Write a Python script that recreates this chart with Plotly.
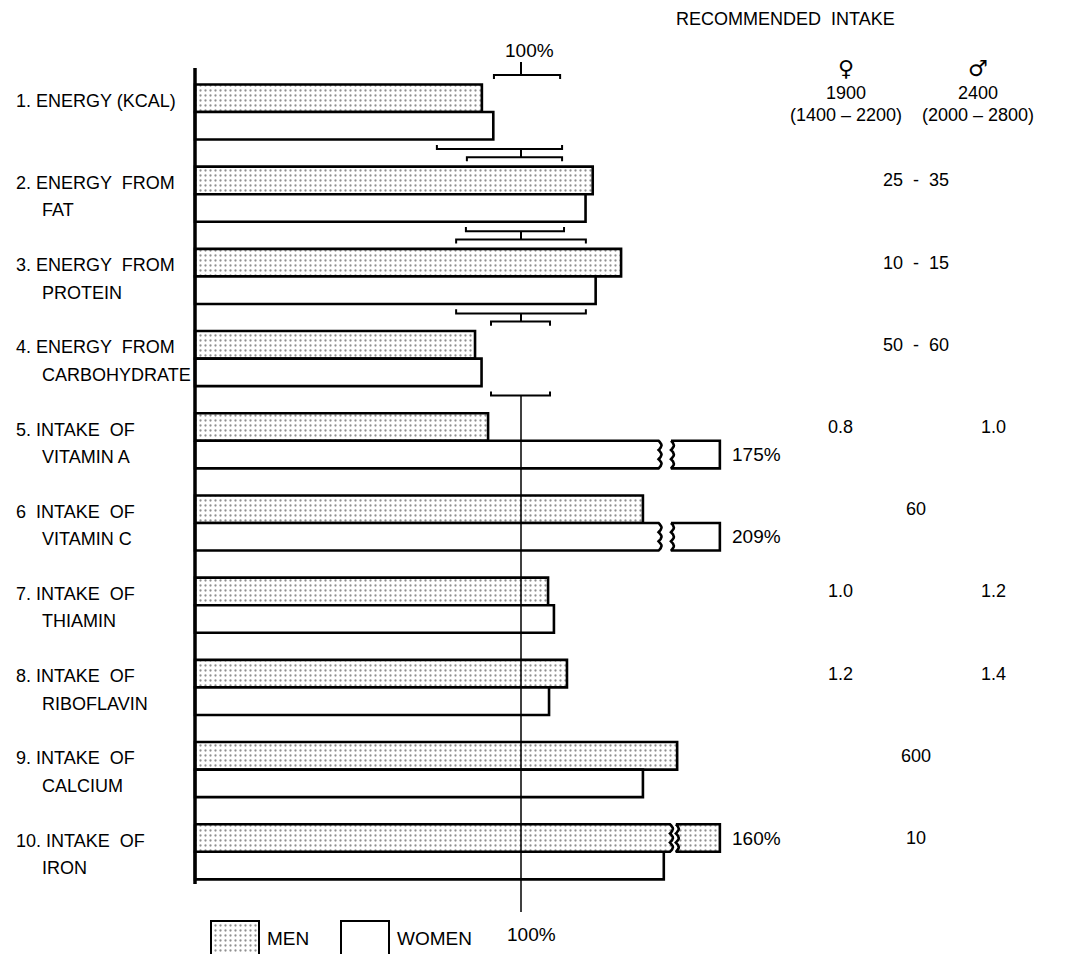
import numpy as np
import plotly.graph_objects as go

# ---------------- data ----------------
label_line1 = ["1. ENERGY (KCAL)", "2. ENERGY  FROM", "3. ENERGY  FROM", "4. ENERGY  FROM",
               "5. INTAKE  OF", "6  INTAKE  OF", "7. INTAKE  OF", "8. INTAKE  OF",
               "9. INTAKE  OF", "10. INTAKE  OF"]
label_line2 = ["", "FAT", "PROTEIN", "CARBOHYDRATE", "VITAMIN A", "VITAMIN C",
               "THIAMIN", "RIBOFLAVIN", "CALCIUM", "IRON"]

men_pct = [88.0, 122.0, 130.7, 85.9, 89.9, 137.4, 108.3, 114.1, 147.9, 160.0]
women_pct = [91.5, 119.8, 122.9, 87.9, 175.0, 209.0, 110.1, 108.6, 137.4, 143.8]

# recommended ranges (as % of recommended intake) shown as brackets, categories 1-4
range_top_lo = [91.7, 83.4, 80.1, 90.8]
range_top_hi = [112.0, 112.6, 119.9, 108.9]
range_bot_lo = [74.2, 83.1, 80.1, 90.8]
range_bot_hi = [112.6, 113.2, 119.9, 108.9]

# recommended intake table
rec_female = [None, None, None, None, "0.8", None, "1.0", "1.2", None, None]
rec_male = [None, None, None, None, "1.0", None, "1.2", "1.4", None, None]
rec_both = [None, "25  -  35", "10  -  15", "50  -  60", None, "60", None, None, "600", "10"]
energy_female = ["1900", "(1400 – 2200)"]
energy_male = ["2400", "(2000 – 2800)"]

# ---------------- layout helpers (reference pixel coordinates) ----------------
PAGE_OFS = 8                      # browser body margin
W, H = 1067 - PAGE_OFS, 954 - PAGE_OFS
X0_PX, PX_PER_PCT = 195.0, 3.26   # 0 % at 195 px, 100 % at 521 px
Y0_PX, PX_PER_ROW = 112.0, 82.2   # row centre spacing


def px2x(px):
    return (px - X0_PX) / PX_PER_PCT


def py2y(py):
    return (py - Y0_PX) / PX_PER_ROW


BAR_T = 0.335
OFF = 0.1675
FONT = dict(family="Liberation Sans, Arial, sans-serif", size=18, color="black")
FONT_L = dict(family="Liberation Sans, Arial, sans-serif", size=19, color="black")
DOTS = dict(shape=".", fgcolor="#222222", bgcolor="white", size=5, solidity=0.17)
EDGE_W = 2.6

BREAK = {"men": (145.7, 147.5), "women": (142.2, 146.0)}
STUB_END = 161.0
CAP = 150.0

fig = go.Figure()
n = len(men_pct)


def add_series(values, offset, pattern, key):
    xs, ys = [], []
    for i, v in enumerate(values):
        if v <= CAP:
            xs.append(v)
            ys.append(i + offset)
    marker = dict(color="white", line=dict(color="black", width=EDGE_W))
    if pattern:
        marker["pattern"] = pattern
    fig.add_trace(go.Bar(orientation="h", x=xs, y=ys, width=BAR_T, marker=marker,
                         hoverinfo="skip"))
    # broken bars
    brk, stub0 = BREAK[key]
    for i, v in enumerate(values):
        if v <= CAP:
            continue
        top = i + offset - BAR_T / 2
        bot = i + offset + BAR_T / 2
        t = np.linspace(0, 1, 25)
        wave = 0.9 * np.abs(np.sin(3 * np.pi * t))
        ty = top + (bot - top) * t
        mx = [0, brk] + list(brk + wave) + [brk, 0, 0]
        my = [top, top] + list(ty) + [bot, bot, top]
        sx = [stub0, STUB_END, STUB_END, stub0] + list(stub0 + wave[::-1]) + [stub0]
        sy = [top, top, bot, bot] + list(ty[::-1]) + [top]
        for px_, py_ in ((mx, my), (sx, sy)):
            kw = dict(x=px_, y=py_, mode="lines", fill="toself", fillcolor="white",
                      line=dict(color="black", width=EDGE_W), hoverinfo="skip")
            if pattern:
                kw["fillpattern"] = pattern
            fig.add_trace(go.Scatter(**kw))
        fig.add_annotation(x=STUB_END + 3.0, y=i + offset, text=f"{v:.0f}%",
                           xanchor="left", yanchor="middle", showarrow=False, font=FONT_L)


add_series(men_pct, -OFF, DOTS, "men")
add_series(women_pct, OFF, None, "women")

# legend swatches
for (x_l, x_r), pat, txt, tx in (((px2x(211), px2x(259)), DOTS, "MEN", px2x(265)),
                                  ((px2x(341), px2x(389)), None, "WOMEN", px2x(395))):
    yt, yb = py2y(921), py2y(975)
    kw = dict(x=[x_l, x_r, x_r, x_l, x_l], y=[yb, yb, yt, yt, yb], mode="lines",
              fill="toself", fillcolor="white", line=dict(color="black", width=2),
              hoverinfo="skip")
    if pat:
        kw["fillpattern"] = pat
    fig.add_trace(go.Scatter(**kw))
    fig.add_annotation(x=tx, y=py2y(938), text=txt, xanchor="left", yanchor="middle",
                       showarrow=False, font=FONT_L)

shapes = []
LINE = dict(color="black", width=2)
# left axis
shapes.append(dict(type="line", x0=0, x1=0, y0=py2y(68), y1=py2y(884),
                   line=dict(color="black", width=3.5)))
TICK = 0.05
for k in range(len(range_top_lo)):
    yt = k - 0.45
    yb = k + 0.45
    lo, hi = range_top_lo[k], range_top_hi[k]
    shapes.append(dict(type="path",
                       path=f"M {lo} {yt + TICK} L {lo} {yt} L {hi} {yt} L {hi} {yt + TICK}",
                       line=LINE))
    lo, hi = range_bot_lo[k], range_bot_hi[k]
    shapes.append(dict(type="path",
                       path=f"M {lo} {yb - TICK} L {lo} {yb} L {hi} {yb} L {hi} {yb - TICK}",
                       line=LINE))
    if k == 0:
        shapes.append(dict(type="line", x0=100, x1=100, y0=py2y(62), y1=yt, line=LINE))
    if k < len(range_top_lo) - 1:
        shapes.append(dict(type="line", x0=100, x1=100, y0=yb, y1=k + 1 - 0.45, line=LINE))
    else:
        shapes.append(dict(type="line", x0=100, x1=100, y0=yb, y1=py2y(912),
                           line=dict(color="black", width=1.5)))

fig.update_layout(shapes=[dict(s, layer="above") for s in shapes])

# left labels
for i in range(n):
    fig.add_annotation(x=px2x(14), y=i - OFF + 0.03, text=label_line1[i], xanchor="left",
                       yanchor="middle", showarrow=False, font=FONT)
    if label_line2[i]:
        fig.add_annotation(x=px2x(40), y=i + OFF + 0.03, text=label_line2[i],
                           xanchor="left", yanchor="middle", showarrow=False, font=FONT)

# 100% labels
fig.add_annotation(x=px2x(529), y=py2y(50), text="100%", showarrow=False, font=FONT_L)
fig.add_annotation(x=px2x(531), y=py2y(934), text="100%", showarrow=False, font=FONT_L)

# recommended intake header
fig.add_annotation(x=px2x(785), y=py2y(19), text="RECOMMENDED  INTAKE", showarrow=False,
                   font=FONT)
FCOL, MCOL = px2x(846), px2x(978)
fig.add_annotation(x=FCOL, y=py2y(68), text="♀", showarrow=False,
                   font=dict(family="DejaVu Sans", size=22, color="black"))
fig.add_annotation(x=MCOL, y=py2y(68), text="♂", showarrow=False,
                   font=dict(family="DejaVu Sans", size=22, color="black"))
for j, (tf, tm) in enumerate(zip(energy_female, energy_male)):
    fig.add_annotation(x=FCOL, y=py2y(93 + 22 * j), text=tf, showarrow=False, font=FONT)
    fig.add_annotation(x=MCOL, y=py2y(93 + 22 * j), text=tm, showarrow=False, font=FONT)

for i in range(n):
    y = i - OFF
    if rec_female[i]:
        fig.add_annotation(x=px2x(840), y=y, text=rec_female[i], showarrow=False, font=FONT)
    if rec_male[i]:
        fig.add_annotation(x=px2x(993), y=y, text=rec_male[i], showarrow=False, font=FONT)
    if rec_both[i]:
        fig.add_annotation(x=px2x(916), y=y, text=rec_both[i], showarrow=False, font=FONT)

fig.update_layout(
    width=W, height=H,
    margin=dict(l=0, r=0, t=0, b=0),
    paper_bgcolor="white", plot_bgcolor="white",
    barmode="overlay", showlegend=False,
    xaxis=dict(range=[px2x(PAGE_OFS), px2x(PAGE_OFS + W)], visible=False, fixedrange=True),
    yaxis=dict(range=[py2y(PAGE_OFS + H), py2y(PAGE_OFS)], visible=False, fixedrange=True),
)

fig.write_html("out.html")
